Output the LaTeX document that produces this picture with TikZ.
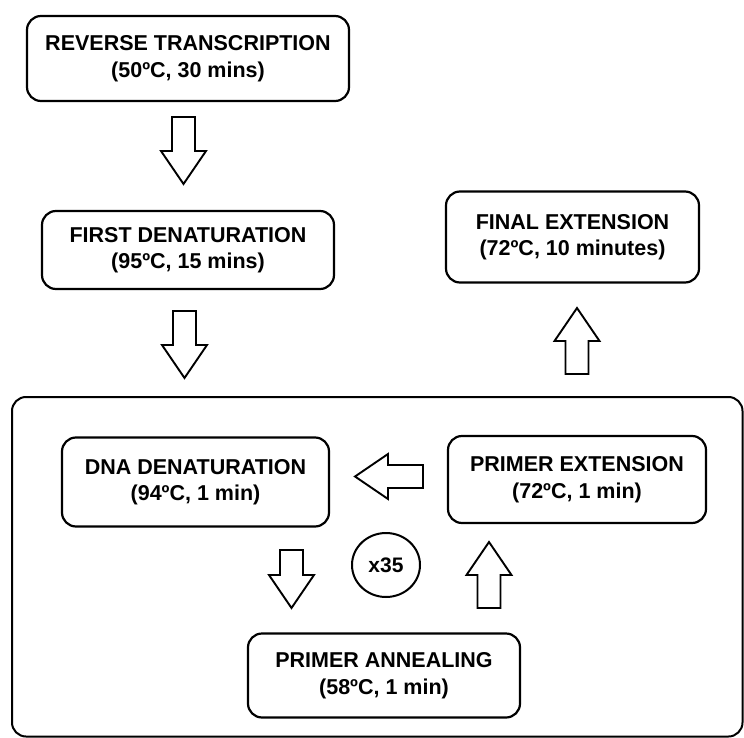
\documentclass[tikz,border=0pt]{standalone}
\usepackage{fontspec}
\setmainfont{Liberation Sans}
\usetikzlibrary{shapes.geometric}
\tikzset{
  stepbox/.style={draw=black, line width=2.2pt, rounded corners=14pt, align=center,
    font=\fontsize{21.5}{26.5}\selectfont\bfseries, inner sep=0pt},
  loopbox/.style={draw=black, line width=2pt, rounded corners=14pt},
  countnode/.style={draw=black, line width=2pt, ellipse, minimum width=68pt, minimum height=64pt,
    inner sep=0pt, font=\fontsize{21}{26}\selectfont\bfseries},
  barrowline/.style={draw=black, line width=1.9pt, fill=white, line join=miter},
  pics/barrow/.style={code={
    \draw[barrowline] (-11.5,0) -- (11.5,0) -- (11.5,#1-33) -- (22.5,#1-33) -- (0,#1)
      -- (-22.5,#1-33) -- (-11.5,#1-33) -- cycle;}}
}
\begin{document}
\begin{tikzpicture}[x=1pt, y=-1pt]
\useasboundingbox (0,0) rectangle (744,738);
% loop frame
\draw[loopbox] (12,397) rectangle (742.5,736.5);
% steps
\node[stepbox, minimum width=322pt, minimum height=85pt] (rt) at (188,58.5)
  {REVERSE TRANSCRIPTION\\(50ºC, 30 mins)};
\node[stepbox, minimum width=292pt, minimum height=78pt] (fd) at (188,250)
  {FIRST DENATURATION\\(95ºC, 15 mins)};
\node[stepbox, minimum width=253pt, minimum height=91pt] (fe) at (572.5,237)
  {FINAL EXTENSION\\(72ºC, 10 minutes)};
\node[stepbox, minimum width=267pt, minimum height=89pt] (dd) at (195.5,482)
  {DNA DENATURATION\\(94ºC, 1 min)};
\node[stepbox, minimum width=258pt, minimum height=87pt] (pe) at (577,479.5)
  {PRIMER EXTENSION\\(72ºC, 1 min)};
\node[stepbox, minimum width=272pt, minimum height=84pt] (pa) at (384,675.5)
  {PRIMER ANNEALING\\(58ºC, 1 min)};
\node[countnode] (cnt) at (386,565) {x35};
% block arrows
\coordinate (a1) at (183.5,117);
\coordinate (a2) at (184.5,311);
\coordinate (a3) at (577,374);
\coordinate (a4) at (423,476.5);
\coordinate (a5) at (291.5,550);
\coordinate (a6) at (489,608);
\pic at (a1) {barrow=67};
\pic at (a2) {barrow=67};
\pic[rotate=180] at (a3) {barrow=66};
\pic[rotate=-90] at (a4) {barrow=68};
\pic at (a5) {barrow=58};
\pic[rotate=180] at (a6) {barrow=66};
\end{tikzpicture}
\end{document}
